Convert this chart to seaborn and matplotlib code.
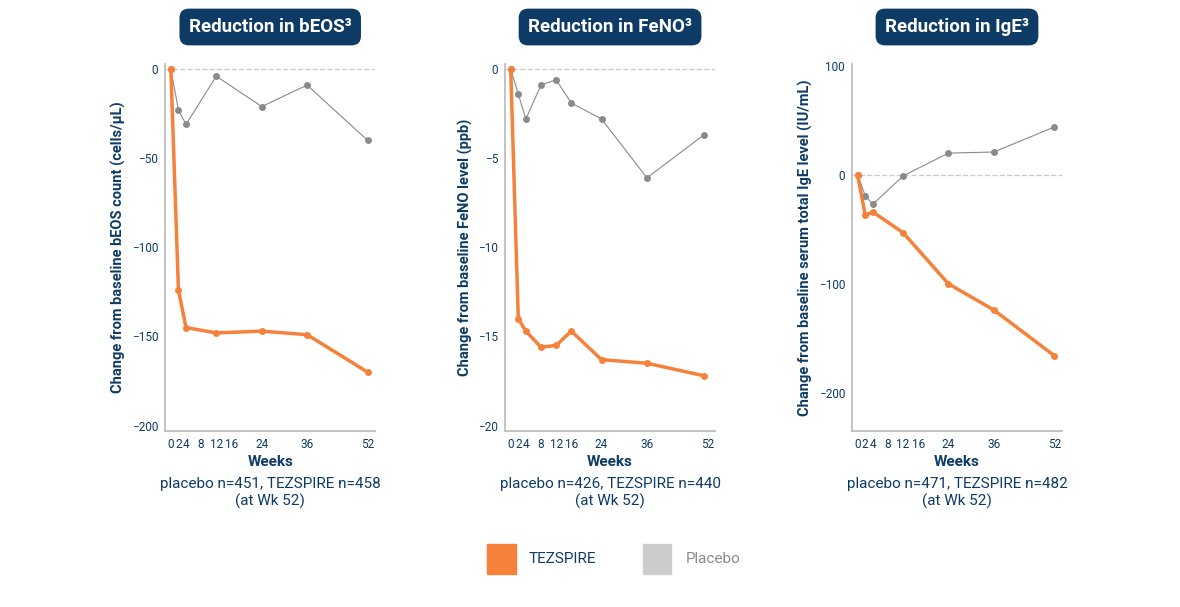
import numpy as np
import matplotlib
matplotlib.use('Agg')
import matplotlib.pyplot as plt
import seaborn as sns
import pandas as pd
from matplotlib.patches import Rectangle

sns.set_theme(style='white')
plt.rcParams['font.family'] = ['Roboto', 'DejaVu Sans']

NAVY = '#0d3b66'
ORANGE = '#f5813a'
GREY = '#8a8a8a'

week_ticks = [0, 2, 4, 8, 12, 16, 24, 36, 52]

eos_weeks = [0, 2, 4, 12, 24, 36, 52]
eos_tez = [0, -124, -145, -148, -147, -149, -170]
eos_pbo = [0, -23, -31, -4, -21, -9, -40]

feno_weeks = [0, 2, 4, 8, 12, 16, 24, 36, 51]
feno_tez = [0, -14.0, -14.7, -15.6, -15.5, -14.7, -16.3, -16.5, -17.2]
feno_pbo = [0, -1.4, -2.8, -0.9, -0.6, -1.9, -2.8, -6.1, -3.7]

ige_weeks = [0, 2, 4, 12, 24, 36, 52]
ige_tez = [0, -37, -34, -53, -100, -124, -166]
ige_pbo = [0, -19, -27, -1, 20, 21, 44]

titles = ['Reduction in bEOS³', 'Reduction in FeNO³', 'Reduction in IgE³']
ylabels = ['Change from baseline bEOS count (cells/µL)',
           'Change from baseline FeNO level (ppb)',
           'Change from baseline serum total IgE level (IU/mL)']
footers = ['placebo n=451, TEZSPIRE n=458\n(at Wk 52)',
           'placebo n=426, TEZSPIRE n=440\n(at Wk 52)',
           'placebo n=471, TEZSPIRE n=482\n(at Wk 52)']
yticks = [[0, -50, -100, -150, -200], [0, -5, -10, -15, -20], [100, 0, -100, -200]]
ylims = [(-203, 3), (-20.3, 0.3), (-235, 102)]

series = [(eos_weeks, eos_tez, eos_pbo), (feno_weeks, feno_tez, feno_pbo), (ige_weeks, ige_tez, ige_pbo)]
lefts = [0.140, 0.428, 0.722]

fig = plt.figure(figsize=(11.8, 6.07), dpi=100)
for i, (w, tez, pbo) in enumerate(series):
    ax = fig.add_axes([lefts[i], 0.29, 0.178, 0.605])
    df = pd.DataFrame({'week': w + w, 'value': tez + pbo,
                       'arm': ['TEZSPIRE'] * len(w) + ['Placebo'] * len(w)})
    ax.axhline(0, color='#cccccc', ls='--', lw=1, zorder=0)
    sns.lineplot(data=df[df.arm == 'Placebo'], x='week', y='value', color=GREY, lw=0.8,
                 marker='o', markersize=5, markeredgewidth=0, ax=ax)
    sns.lineplot(data=df[df.arm == 'TEZSPIRE'], x='week', y='value', color=ORANGE, lw=2.5,
                 marker='o', markersize=5, markeredgewidth=0, ax=ax)
    ax.set_xlim(-1.5, 54)
    ax.set_ylim(*ylims[i])
    ax.set_xticks(week_ticks)
    ax.set_yticks(yticks[i])
    ax.tick_params(labelsize=8.5, colors=NAVY, length=3, color='#bbbbbb', pad=2)
    for s in ['top', 'right']:
        ax.spines[s].set_visible(False)
    for s in ['left', 'bottom']:
        ax.spines[s].set_color('#bbbbbb')
    ax.set_ylabel(ylabels[i], color=NAVY, fontsize=10.5, fontweight='bold', labelpad=4)
    ax.set_xlabel('Weeks', color=NAVY, fontsize=11, fontweight='bold', labelpad=3)
    ax.text(0.5, -0.125, footers[i], transform=ax.transAxes, ha='center', va='top',
            fontsize=11, color=NAVY)
    ax.text(0.5, 1.1, titles[i], transform=ax.transAxes, ha='center', va='center',
            fontsize=13.5, color='white', fontweight='bold',
            bbox=dict(boxstyle='round,pad=0.5,rounding_size=0.5', fc=NAVY, ec='none'))

fig.patches.append(Rectangle((0.413, 0.055), 0.024, 0.048, transform=fig.transFigure, color=ORANGE))
fig.text(0.448, 0.079, 'TEZSPIRE', fontsize=11, color=NAVY, va='center')
fig.patches.append(Rectangle((0.545, 0.055), 0.024, 0.048, transform=fig.transFigure, color='#cccccc'))
fig.text(0.581, 0.079, 'Placebo', fontsize=11, color=GREY, va='center')

fig.savefig('out.png', dpi=100)
